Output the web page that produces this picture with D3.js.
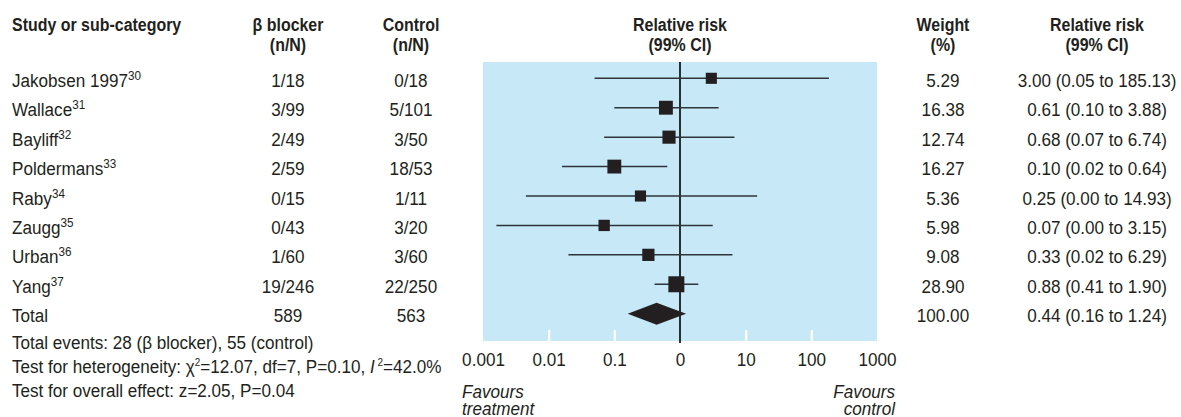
<!DOCTYPE html>
<html>
<head>
<meta charset="utf-8">
<script src="https://cdn.jsdelivr.net/npm/d3@7"></script>
<style>
  html, body { margin: 0; padding: 0; background: #fff; }
  svg text { font-family: 'Liberation Sans', Arial, sans-serif; fill: #231f20; }
</style>
</head>
<body>
<svg id="chart" width="1181" height="417"></svg>
<script>
// ---- data ----
const studies = ["Jakobsen 1997", "Wallace", "Bayliff", "Poldermans", "Raby", "Zaugg", "Urban", "Yang"];
const refs = ["30", "31", "32", "33", "34", "35", "36", "37"];
const treatEvents = ["1/18", "3/99", "2/49", "2/59", "0/15", "0/43", "1/60", "19/246"];
const controlEvents = ["0/18", "5/101", "3/50", "18/53", "1/11", "3/20", "3/60", "22/250"];
const weights = [5.29, 16.38, 12.74, 16.27, 5.36, 5.98, 9.08, 28.90];
const weightText = ["5.29", "16.38", "12.74", "16.27", "5.36", "5.98", "9.08", "28.90"];
const rr = [3.00, 0.61, 0.68, 0.10, 0.25, 0.07, 0.33, 0.88];
const ciLow = [0.05, 0.10, 0.07, 0.016, 0.0045, 0.0016, 0.02, 0.41];
const ciHigh = [185.13, 3.88, 6.74, 0.64, 14.93, 3.15, 6.29, 1.90];
const ciText = ["3.00 (0.05 to 185.13)", "0.61 (0.10 to 3.88)", "0.68 (0.07 to 6.74)", "0.10 (0.02 to 0.64)",
                "0.25 (0.00 to 14.93)", "0.07 (0.00 to 3.15)", "0.33 (0.02 to 6.29)", "0.88 (0.41 to 1.90)"];
const totalLabel = "Total";
const totalTreat = "589";
const totalControl = "563";
const totalWeight = "100.00";
const totalRR = 0.44, totalLow = 0.16, totalHigh = 1.24;
const totalText = "0.44 (0.16 to 1.24)";
const tickValues = [0.001, 0.01, 0.1, 1, 10, 100, 1000];
const tickLabels = ["0.001", "0.01", "0.1", "0", "10", "100", "1000"];

// ---- layout ----
const svg = d3.select("#chart");
const FS = 19;
const SX = 0.9, SXB = 0.84;
const x = d3.scaleLog().domain([0.001, 1000]).range([483, 877]);
const y = d3.scaleLinear().domain([0, 8]).range([78.3, 313.7]);
const size = d3.scaleSqrt().domain([5, 29]).range([11, 16]);
const panelTop = 62, panelBottom = 341;
const colStudy = 12, colTreat = 288, colCtrl = 411, colW = 943, colCI = 1097;

function txt(xp, yp, str, o = {}) {
  const g = svg.append("g").attr("transform", `translate(${xp},${yp}) scale(${o.bold ? SXB : SX},1)`);
  const t = g.append("text").attr("x", 0).attr("y", 0).attr("font-size", o.size || FS)
    .attr("text-anchor", o.anchor || "start");
  if (o.bold) t.attr("font-weight", "bold");
  if (o.italic) t.attr("font-style", "italic");
  if (str != null) t.text(str);
  return t;
}

// panel
svg.append("rect").attr("x", x(0.001)).attr("y", panelTop)
  .attr("width", x(1000) - x(0.001)).attr("height", panelBottom - panelTop)
  .attr("fill", "#c6e8f7");

// white inner ticks at bottom of panel
const innerTicks = d3.axisBottom(x).tickValues([0.01, 0.1, 10, 100]).tickSize(-11).tickFormat("");
const gi = svg.append("g").attr("transform", `translate(0,${panelBottom})`).call(innerTicks);
gi.select(".domain").remove();
gi.selectAll(".tick line").attr("stroke", "#fff").attr("stroke-width", 2.2);

// axis labels
const axis = d3.axisBottom(x).tickValues(tickValues).tickSize(0).tickPadding(0)
  .tickFormat((d, i) => tickLabels[i]);
const ga = svg.append("g").attr("transform", `translate(0,366)`).call(axis);
ga.select(".domain").remove();
ga.attr("font-family", null).attr("font-size", null);
ga.selectAll(".tick text").attr("dy", 0).attr("y", 0).attr("font-size", FS)
  .attr("transform", `scale(${SX},1)`).attr("fill", "#231f20");

// line of no effect
svg.append("line").attr("x1", x(1)).attr("x2", x(1)).attr("y1", panelTop).attr("y2", panelBottom + 2)
  .attr("stroke", "#000").attr("stroke-width", 1.6);

// CI lines
const idx = d3.range(studies.length);
svg.append("g").selectAll("line").data(idx).join("line")
  .attr("x1", i => x(ciLow[i])).attr("x2", i => x(ciHigh[i]))
  .attr("y1", i => y(i)).attr("y2", i => y(i))
  .attr("stroke", "#2f3438").attr("stroke-width", 1.5);

// squares
svg.append("g").selectAll("rect").data(idx).join("rect")
  .attr("x", i => x(rr[i]) - size(weights[i]) / 2)
  .attr("y", i => y(i) - size(weights[i]) / 2)
  .attr("width", i => size(weights[i])).attr("height", i => size(weights[i]))
  .attr("fill", "#231f20");

// diamond
const ty = y(8), dh = 11;
svg.append("path")
  .attr("d", `M${x(totalLow)},${ty} L${x(totalRR)},${ty - dh} L${x(totalHigh)},${ty} L${x(totalRR)},${ty + dh} Z`)
  .attr("fill", "#231f20");

// headers
function header(xp, lines, anchor) {
  const t = txt(xp, 30.5, null, { bold: true, anchor });
  lines.forEach((l, k) => t.append("tspan").attr("x", 0).attr("dy", k === 0 ? 0 : 20.5).text(l));
}
header(colStudy, ["Study or sub-category"], "start");
header(colTreat, ["β blocker", "(n/N)"], "middle");
header(colCtrl, ["Control", "(n/N)"], "middle");
header(x(1), ["Relative risk", "(99% CI)"], "middle");
header(colW, ["Weight", "(%)"], "middle");
header(colCI, ["Relative risk", "(99% CI)"], "middle");

// study rows
idx.forEach(i => {
  const by = y(i) + 8.5;
  const t = txt(colStudy, by, null);
  t.append("tspan").text(studies[i]);
  t.append("tspan").attr("font-size", 13).attr("dy", -7).text(refs[i]);
  txt(colTreat, by, treatEvents[i], { anchor: "middle" });
  txt(colCtrl, by, controlEvents[i], { anchor: "middle" });
  txt(colW, by, weightText[i], { anchor: "middle" });
  txt(colCI, by, ciText[i], { anchor: "middle" });
});

// total row
const tby = y(8) + 8;
txt(colStudy, tby, totalLabel);
txt(colTreat, tby, totalTreat, { anchor: "middle" });
txt(colCtrl, tby, totalControl, { anchor: "middle" });
txt(colW, tby, totalWeight, { anchor: "middle" });
txt(colCI, tby, totalText, { anchor: "middle" });

// footer stats
txt(colStudy, 349, "Total events: 28 (β blocker), 55 (control)");
const het = txt(colStudy, 373, null);
het.append("tspan").text("Test for heterogeneity: χ");
het.append("tspan").attr("font-size", 11).attr("dy", -7).text("2");
het.append("tspan").attr("dy", 7).text("=12.07, df=7, P=0.10, ");
het.append("tspan").attr("font-style", "italic").text("I");
het.append("tspan").attr("font-size", 11).attr("dy", -7).text(" 2");
het.append("tspan").attr("dy", 7).text("=42.0%");
txt(colStudy, 397, "Test for overall effect: z=2.05, P=0.04");

// favours labels
const fl = txt(462, 398, null, { italic: true });
fl.append("tspan").attr("x", 0).text("Favours");
fl.append("tspan").attr("x", 0).attr("dy", 16.7).text("treatment");
const fr = txt(895, 398, null, { italic: true, anchor: "end" });
fr.append("tspan").attr("x", 0).text("Favours");
fr.append("tspan").attr("x", 0).attr("dy", 16.7).text("control");
</script>
</body>
</html>
